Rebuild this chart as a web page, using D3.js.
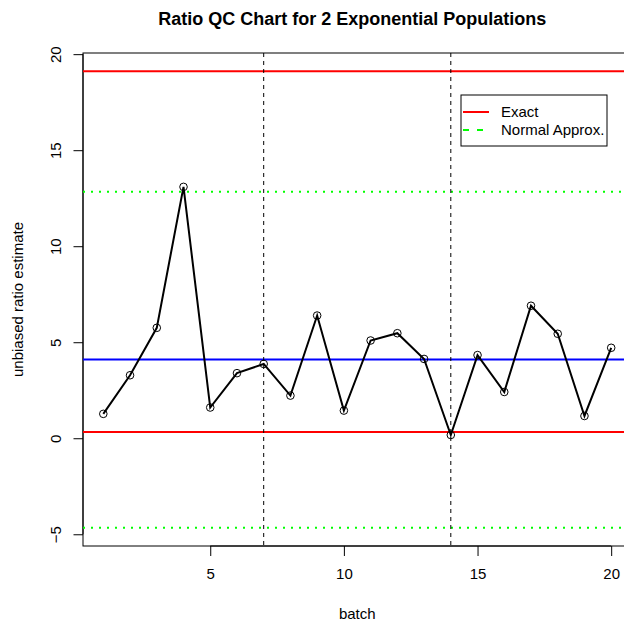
<!DOCTYPE html>
<html>
<head>
<meta charset="utf-8">
<script src="https://cdn.jsdelivr.net/npm/d3@7"></script>
<style>
  body { margin: 0; background: #fff; }
  svg { display: block; font-family: "Liberation Sans", Arial, sans-serif; }
</style>
</head>
<body>
<script>
// batch ratio estimates
const batches = d3.range(1, 21);
const ratios = [1.27, 3.28, 5.75, 13.09, 1.60, 3.39, 3.87, 2.22, 6.39, 1.44,
                5.09, 5.47, 4.13, 0.17, 4.33, 2.41, 6.90, 5.44, 1.16, 4.71];

// control limits
const centerLine = 4.10;
const exactLimits = [0.33, 19.11];
const normalLimits = [-4.66, 12.84];
const splitBatches = [7, 14];

const xTicks = [5, 10, 15, 20];
const yTicks = [-5, 0, 5, 10, 15, 20];

const legendItems = [
  { label: "Exact", color: "red", dash: null },
  { label: "Normal Approx.", color: "#00ff00", dash: "6,8" }
];

const width = 624, height = 623;
const margin = { left: 83, top: 53, bottom: 546 };
const fontSize = 15;

// R-style 4% axis extension
const xExt = (20 - 1) * 0.04;
const allY = ratios.concat(exactLimits, normalLimits);
const yMin = d3.min(allY), yMax = d3.max(allY);
const yExt = (yMax - yMin) * 0.04;

let x = d3.scaleLinear()
    .domain([1 - xExt, 20 + xExt])
    .range([margin.left, margin.left + (20 + 2 * xExt - 1) * 26.73]);

let y = d3.scaleLinear()
    .domain([yMin - yExt, yMax + yExt])
    .range([margin.bottom, margin.top]);

let svg = d3.select("body").append("svg")
    .attr("width", width)
    .attr("height", height);

// title
svg.append("text")
    .attr("x", (x.range()[0] + x.range()[1]) / 2 - 5)
    .attr("y", 25)
    .attr("text-anchor", "middle")
    .attr("font-size", 18)
    .attr("font-weight", "bold")
    .text("Ratio QC Chart for 2 Exponential Populations");

// plot box
svg.append("rect")
    .attr("x", x.range()[0])
    .attr("y", y.range()[1])
    .attr("width", x.range()[1] - x.range()[0])
    .attr("height", y.range()[0] - y.range()[1])
    .attr("fill", "none")
    .attr("stroke", "#000")
    .attr("stroke-width", 1);

// axes
let xAxis = svg.append("g")
    .attr("transform", "translate(0," + margin.bottom + ")")
    .call(d3.axisBottom(x).tickValues(xTicks).tickSize(10).tickPadding(12.8).tickSizeOuter(0));
xAxis.select(".domain").attr("d", "M" + x(5) + ",0H" + x(20));

let yAxis = svg.append("g")
    .attr("transform", "translate(" + margin.left + ",0)")
    .call(d3.axisLeft(y).tickValues(yTicks).tickSize(9.5).tickSizeOuter(0)
      .tickFormat(d => d < 0 ? "\u2212" + Math.abs(d) : d));
yAxis.select(".domain").attr("d", "M0," + y(-5) + "V" + y(20));
yAxis.selectAll(".tick text")
    .attr("x", 0).attr("dy", 0)
    .attr("transform", "translate(-22,0) rotate(-90)")
    .attr("text-anchor", "middle");

svg.selectAll(".tick text").attr("font-size", fontSize).attr("fill", "#000")
    .attr("font-family", "Liberation Sans, Arial, sans-serif");

// axis labels
svg.append("text")
    .attr("x", (x.range()[0] + x.range()[1]) / 2)
    .attr("y", 619)
    .attr("text-anchor", "middle")
    .attr("font-size", fontSize)
    .text("batch");

svg.append("text")
    .attr("transform", "translate(23," + ((y.range()[0] + y.range()[1]) / 2) + ") rotate(-90)")
    .attr("text-anchor", "middle")
    .attr("font-size", fontSize)
    .text("unbiased ratio estimate");

let plot = svg.append("g");

// limit lines
plot.selectAll(".exact").data(exactLimits).enter().append("line")
    .attr("x1", x.range()[0]).attr("x2", x.range()[1])
    .attr("y1", d => y(d)).attr("y2", d => y(d))
    .attr("stroke", "red").attr("stroke-width", 2);

plot.selectAll(".normal").data(normalLimits).enter().append("line")
    .attr("x1", x.range()[0]).attr("x2", x.range()[1])
    .attr("y1", d => y(d)).attr("y2", d => y(d))
    .attr("stroke", "#00ff00").attr("stroke-width", 2)
    .attr("stroke-dasharray", "2,6");

plot.append("line")
    .attr("x1", x.range()[0]).attr("x2", x.range()[1])
    .attr("y1", y(centerLine)).attr("y2", y(centerLine))
    .attr("stroke", "blue").attr("stroke-width", 2);

plot.selectAll(".split").data(splitBatches).enter().append("line")
    .attr("x1", d => x(d)).attr("x2", d => x(d))
    .attr("y1", y.range()[1]).attr("y2", y.range()[0])
    .attr("stroke", "#000").attr("stroke-width", 1)
    .attr("stroke-dasharray", "4,4");

// series
let line = d3.line()
    .x((d, i) => x(batches[i]))
    .y(d => y(d));

plot.append("path")
    .datum(ratios)
    .attr("d", line)
    .attr("fill", "none")
    .attr("stroke", "#000")
    .attr("stroke-width", 2);

plot.selectAll("circle").data(ratios).enter().append("circle")
    .attr("cx", (d, i) => x(batches[i]))
    .attr("cy", d => y(d))
    .attr("r", 3.8)
    .attr("fill", "none")
    .attr("stroke", "#000")
    .attr("stroke-width", 1);

// legend
let legend = svg.append("g").attr("transform", "translate(461,95)");
legend.append("rect")
    .attr("width", 146).attr("height", 51)
    .attr("fill", "#fff").attr("stroke", "#000").attr("stroke-width", 1);

let li = legend.selectAll(".item").data(legendItems).enter().append("g")
    .attr("transform", (d, i) => "translate(0," + (17 + i * 18) + ")");
li.append("line")
    .attr("x1", 2).attr("x2", 28)
    .attr("stroke", d => d.color).attr("stroke-width", 2)
    .attr("stroke-dasharray", d => d.dash);
li.append("text")
    .attr("x", 40).attr("dy", "0.35em")
    .attr("font-size", fontSize)
    .text(d => d.label);
</script>
</body>
</html>
